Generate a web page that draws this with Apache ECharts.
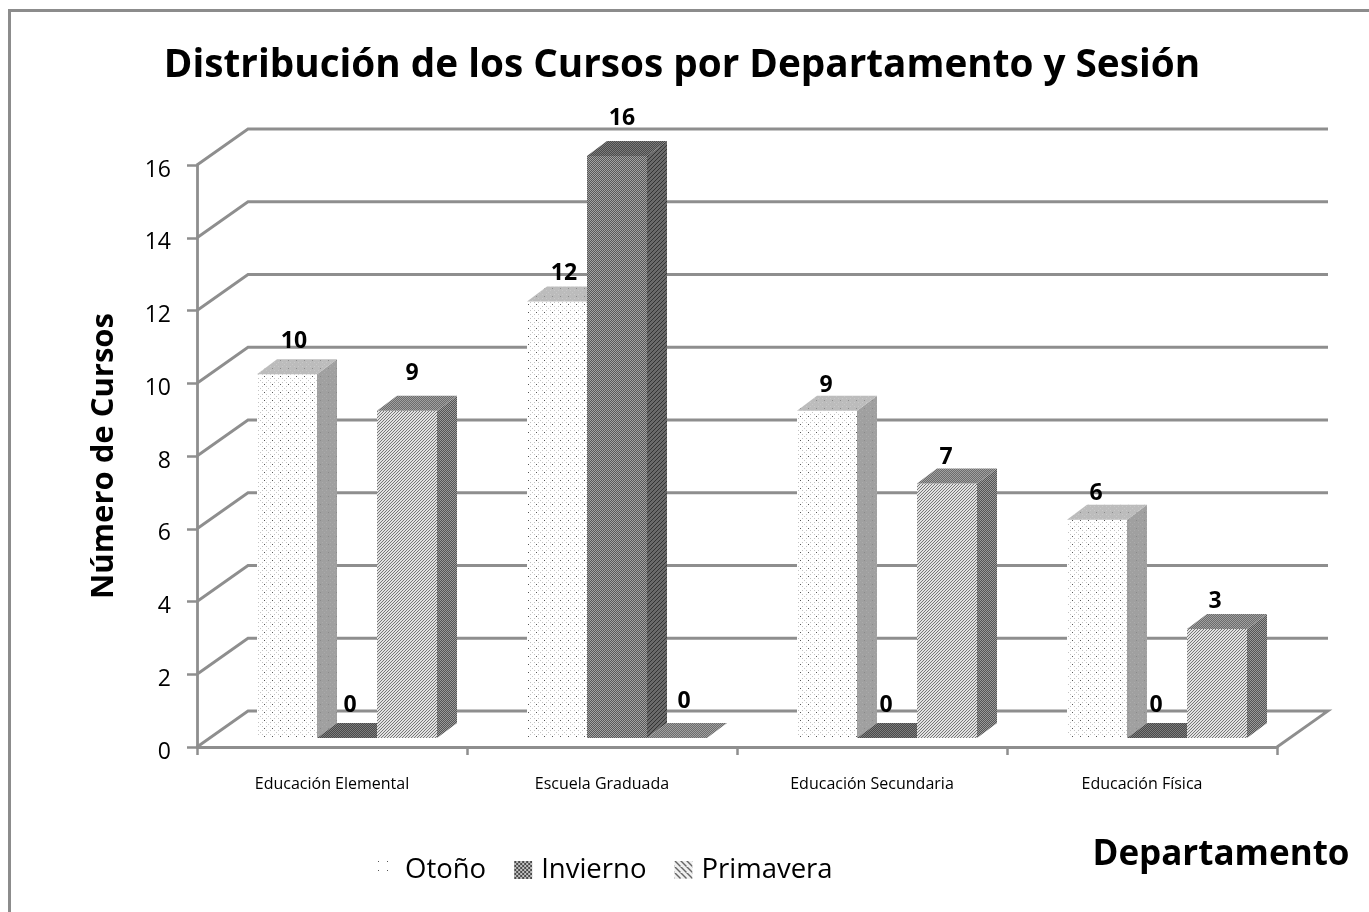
<!DOCTYPE html>
<html><head><meta charset="utf-8">
<style>html,body{margin:0;padding:0;background:#fff}#c{width:1369px;height:912px}</style>
<script src="https://cdn.jsdelivr.net/npm/echarts@6/dist/echarts.min.js"></script>
</head><body><div id="c"></div>
<script>
const categories = ['Educación Elemental','Escuela Graduada','Educación Secundaria','Educación Física'];
const seriesNames = ['Otoño','Invierno','Primavera'];
const otono = [10,12,9,6];
const invierno = [0,16,0,0];
const primavera = [9,0,7,3];
const yTicks = [0,2,4,6,8,10,12,14,16];

// label nudges, [dx,dy] per series per category, from the reference
const nudges = [
  [[7,-33],[7,-28],[-1,-25],[-1,-26]],
  [[3,-33],[5,-38],[-1,-33],[-1,-33]],
  [[5,-37],[7,-37],[-1,-26],[-2,-27]]
];
const WALL = [51,-36], DEPTH = [20,-15], FLOOR = [0,-9];
const BAR_W = 60, BAR_START = 60;
const FONT = '"Open Sans","Noto Sans",sans-serif';

function pat(size, bg, draw){
  const c = document.createElement('canvas'); c.width = c.height = size;
  const x = c.getContext('2d'); x.fillStyle = bg; x.fillRect(0,0,size,size); draw(x);
  return {image:c, repeat:'repeat'};
}
function px(x,col,pts){x.fillStyle=col;pts.forEach(p=>x.fillRect(p[0],p[1],1,1));}
function hatch(bg,fg,n){return pat(n,bg,x=>{for(let i=0;i<n;i++)px(x,fg,[[i,n-1-i]]);});}
function checker(a,b){return pat(2,a,x=>px(x,b,[[0,0],[1,1]]));}
const dots = (bg,d1,d2)=>pat(8,bg,x=>{px(x,d1,[[0,0]]);px(x,d2,[[4,4],[2,2],[6,6],[6,2],[2,6]]);});
const faces = [
  {front:dots('#ffffff','#555555','#c4c4c4'), side:dots('#a0a0a0','#8a8a8a','#ababab'), top:dots('#bcbcbc','#8c8c8c','#c8c8c8')},
  {front:checker('#585858','#a2a2a2'), side:hatch('#6a6a6a','#333333',4), top:checker('#4a4a4a','#7c7c7c')},
  {front:hatch('#e2e2e2','#777777',3), side:checker('#555555','#9a9a9a'), top:checker('#6c6c6c','#a0a0a0')}
];
const legendFill = [
  pat(9,'#ffffff',x=>px(x,'#555555',[[0,0]])),
  pat(4,'#c0c0c0',x=>{x.fillStyle='#4a4a4a';x.fillRect(0,0,2,2);x.fillRect(2,2,2,2);}),
  pat(6,'#f0f0f0',x=>{for(let i=0;i<6;i++){x.fillStyle='#666666';x.fillRect(i,i,2,1);}})
];
const dataSets = [otono,invierno,primavera];
const axisCol = '#8e8e8e';

function wallItem(params, api){
  const v = api.value(0);
  const a = api.coord([0,v]); // band centre of first category
  const band = api.size([1,0])[0];
  const x0 = a[0]-band/2, y = a[1];
  const x1 = x0 + band*categories.length;
  const pts = [[x0,y],[x0+WALL[0],y+WALL[1]],[x1+WALL[0],y+WALL[1]]];
  if(v===0) pts.push([x1,y]);
  return {type:'polyline',shape:{points:pts},style:{fill:'none',stroke:axisCol,lineWidth:2.8},silent:true};
}
function barItem(si){
  return function(params, api){
    const cat = api.value(0), val = api.value(1);
    const band = api.size([1,0])[0];
    const base = api.coord([cat,0]), top = api.coord([cat,val]);
    const l = base[0]-band/2+BAR_START+si*BAR_W+FLOOR[0], r = l+BAR_W;
    const yb = base[1]+FLOOR[1], yt = top[1]+FLOOR[1];
    const [dx,dy] = DEPTH;
    const f = faces[si];
    const ch = [];
    if(val>0){
      ch.push({type:'rect',shape:{x:l,y:yt,width:BAR_W,height:yb-yt},style:{fill:f.front}});
      ch.push({type:'polygon',shape:{points:[[r,yb],[r+dx,yb+dy],[r+dx,yt+dy],[r,yt]]},style:{fill:f.side}});
    }
    ch.push({type:'polygon',shape:{points:[[l,yt],[l+dx,yt+dy],[r+dx,yt+dy],[r,yt]]},style:{fill:f.top}});
    const n = nudges[si][cat];
    ch.push({type:'text',style:{text:String(val),x:(l+r)/2+n[0],y:yt+n[1],align:'center',verticalAlign:'middle',
      font:'bold 23px '+FONT,fill:'#000'}});
    return {type:'group',children:ch};
  };
}

const chart = echarts.init(document.getElementById('c'),null,{renderer:'canvas'});
chart.setOption({
  animation:false,
  backgroundColor:'#fff',
  title:[
    {text:'Distribución de los Cursos por Departamento y Sesión',left:677,top:61,textAlign:'center',textVerticalAlign:'middle',
      textStyle:{fontFamily:FONT,fontSize:38.7,fontWeight:'bold',color:'#000'}},
    {text:'Departamento',left:1216,top:850,textAlign:'center',textVerticalAlign:'middle',
      textStyle:{fontFamily:FONT,fontSize:35,fontWeight:'bold',color:'#000'}}
  ],
  legend:{
    data:seriesNames.map((n,i)=>({name:n,icon:'rect',itemStyle:{color:legendFill[i]}})),
    left:373,top:851,itemWidth:18,itemHeight:18,itemGap:28,
    selectedMode:false,
    textStyle:{fontFamily:FONT,fontSize:27.5,color:'#000',padding:[0,0,0,4]}
  },
  grid:{left:197,right:92,top:165,bottom:165},
  xAxis:{type:'category',data:categories,
    axisLine:{lineStyle:{color:axisCol,width:2.8}},
    axisTick:{show:true,alignWithLabel:false,length:8,lineStyle:{color:axisCol,width:2.5}},
    axisLabel:{interval:0,margin:29,fontSize:16,fontFamily:FONT,color:'#000'},
    splitLine:{show:false}},
  yAxis:{type:'value',min:0,max:16,interval:2,
    name:'Número de Cursos',nameLocation:'middle',nameGap:77,nameRotate:90,
    nameTextStyle:{fontFamily:FONT,fontSize:31,fontWeight:'bold',color:'#000'},
    axisLine:{show:true,lineStyle:{color:axisCol,width:2.8}},
    axisTick:{show:true,length:10,lineStyle:{color:axisCol,width:2.5}},
    axisLabel:{margin:26,fontSize:23,fontFamily:FONT,color:'#000',verticalAlign:'top',lineHeight:10},
    splitLine:{show:false}},
  graphic:[{type:'polyline',silent:true,shape:{points:[[9.5,912],[9.5,10.5],[1369,10.5]]},style:{fill:'none',stroke:'#8c8c8c',lineWidth:3}}],
  series:[
    {type:'custom',name:'walls',silent:true,renderItem:wallItem,data:yTicks.map(v=>[v]),encode:{y:0},z:1,clip:false},
    ...seriesNames.map((n,i)=>({type:'custom',name:n,z:2+i,clip:false,silent:true,
      itemStyle:{color:legendFill[i]},
      renderItem:barItem(i),
      data:dataSets[i].map((v,c)=>[c,v]),encode:{x:0,y:1}}))
  ]
});
</script></body></html>
